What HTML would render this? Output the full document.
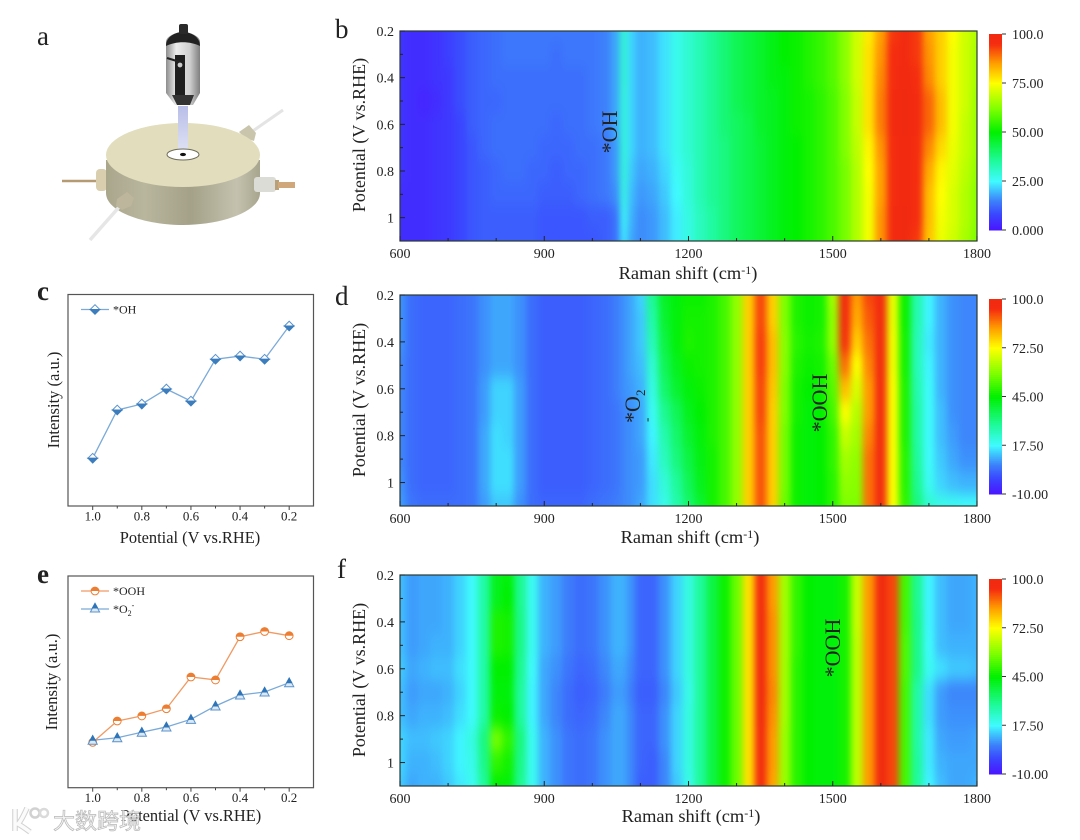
<!DOCTYPE html>
<html lang="en">
<head>
<meta charset="utf-8">
<title>Raman potential maps</title>
<style>
html,body{margin:0;padding:0;background:#fff;}
svg{display:block;filter:blur(0.35px);}
text{font-family:"Liberation Serif","Noto Serif CJK SC",serif;fill:#222;}
</style>
</head>
<body>
<svg id="figure" xmlns="http://www.w3.org/2000/svg" width="1080" height="840" viewBox="0 0 1080 840">
<defs>
<filter id="cellBlur" filterUnits="userSpaceOnUse" x="340" y="0" width="700" height="840" color-interpolation-filters="sRGB"><feGaussianBlur stdDeviation="3.5 7"/></filter>
<clipPath id="clipB"><rect x="400" y="31" width="577" height="210"/></clipPath>
<clipPath id="clipD"><rect x="400" y="295" width="577" height="211"/></clipPath>
<clipPath id="clipF"><rect x="400" y="575" width="577" height="211"/></clipPath>
<linearGradient id="cellSide" x1="0" x2="1" y1="0" y2="0">
<stop offset="0" stop-color="#a9a68c"/><stop offset=".25" stop-color="#b9b69e"/><stop offset=".55" stop-color="#a4a188"/><stop offset=".85" stop-color="#c4c2ae"/><stop offset="1" stop-color="#a8a58e"/>
</linearGradient>
<linearGradient id="probeBody" x1="0" x2="1" y1="0" y2="0">
<stop offset="0" stop-color="#8d8d8d"/><stop offset=".3" stop-color="#ededed"/><stop offset=".7" stop-color="#cfcfcf"/><stop offset="1" stop-color="#7f7f7f"/>
</linearGradient>
<linearGradient id="beam" x1="0" x2="0" y1="0" y2="1">
<stop offset="0" stop-color="#b9bee8"/><stop offset="1" stop-color="#dfe2f4"/>
</linearGradient>
</defs>

<!-- panel a illustration -->
<g id="cell-illustration">
<line x1="283" y1="110" x2="250" y2="133" stroke="#e4e4e4" stroke-width="3"/>
<path d="M239 132 L249 125 L256 133 L254 141 L245 138 Z" fill="#c9c5ac"/>
<line x1="62" y1="181" x2="97" y2="181" stroke="#b59a72" stroke-width="2.5"/>
<rect x="96" y="169" width="11" height="22" rx="4" fill="#d9cfaf"/>
<path d="M106 160 V193 C106 212 145 225 183 225 C221 225 260 212 260 193 V160 Z" fill="url(#cellSide)"/>
<ellipse cx="183" cy="155" rx="77" ry="32" fill="#e1ddbd"/>
<line x1="90" y1="240" x2="120" y2="206" stroke="#e6e6e6" stroke-width="3.5"/>
<path d="M117 199 L127 192 L134 198 L131 206 L122 210 L116 206 Z" fill="#bdb69c"/>
<rect x="254" y="177" width="22" height="15" rx="3" fill="#dcdcd6"/>
<rect x="275" y="180" width="4" height="10" fill="#b8a078"/>
<rect x="278" y="182" width="17" height="6" fill="#d0a77a"/>
<polygon points="178,106 188,106 188,152 178,152" fill="url(#beam)"/>
<ellipse cx="183" cy="154.5" rx="16" ry="5.5" fill="#fff" stroke="#6d6b58" stroke-width="1"/>
<ellipse cx="183" cy="154.5" rx="3" ry="1.6" fill="#111"/>
<path d="M166 42 C166 36 176 32 183 32 C190 32 200 36 200 42 V93 L193 105 H175 L166 93 Z" fill="url(#probeBody)"/>
<path d="M166 46 C166 36 176 32 183 32 C190 32 200 36 200 46 C190 41 176 41 166 46 Z" fill="#222"/>
<rect x="179" y="24" width="9" height="10" rx="2" fill="#2a2a2a"/>
<rect x="175" y="55" width="10" height="40" fill="#1f1f1f"/>
<line x1="167" y1="58" x2="180" y2="62" stroke="#222" stroke-width="2"/>
<circle cx="180" cy="65" r="2.4" fill="#ccc"/>
<path d="M172 95 H194 L190 105 H177 Z" fill="#333"/>
</g>

<text x="37" y="45" font-size="27">a</text>
<text x="335" y="38" font-size="27">b</text>
<text x="37" y="300" font-size="27" font-weight="bold">c</text>
<text x="335" y="305" font-size="27">d</text>
<text x="37" y="583" font-size="27" font-weight="bold">e</text>
<text x="337" y="578" font-size="27">f</text>

<g id="mapB"></g>
<g id="mapD"></g>
<g id="mapF"></g>

<text transform="translate(365,135) rotate(-90)" text-anchor="middle" font-size="18">Potential (V vs.RHE)</text>
<text transform="translate(365,400) rotate(-90)" text-anchor="middle" font-size="18">Potential (V vs.RHE)</text>
<text transform="translate(365,680) rotate(-90)" text-anchor="middle" font-size="18">Potential (V vs.RHE)</text>
<text x="688" y="279" text-anchor="middle" font-size="18.4">Raman shift (cm<tspan dy="-5" font-size="12">-1</tspan><tspan dy="5">)</tspan></text>
<text x="690" y="543" text-anchor="middle" font-size="18.4">Raman shift (cm<tspan dy="-5" font-size="12">-1</tspan><tspan dy="5">)</tspan></text>
<text x="691" y="822" text-anchor="middle" font-size="18.4">Raman shift (cm<tspan dy="-5" font-size="12">-1</tspan><tspan dy="5">)</tspan></text>

<text transform="translate(617,132) rotate(-90)" text-anchor="middle" font-size="22">*OH</text>
<text transform="translate(640,423) rotate(-90)" font-size="22">*O</text>
<text transform="translate(645,396) rotate(-90)" font-size="13">2</text>
<text transform="translate(651,422) rotate(-90)" font-size="13">-</text>
<text transform="translate(827,403) rotate(-90)" text-anchor="middle" font-size="22">*OOH</text>
<text transform="translate(840,648) rotate(-90)" text-anchor="middle" font-size="22">*OOH</text>

<g id="chartC"></g>
<g id="chartE"></g>

<text x="190" y="543" text-anchor="middle" font-size="16.4">Potential (V vs.RHE)</text>
<text transform="translate(59,400) rotate(-90)" text-anchor="middle" font-size="16.5">Intensity (a.u.)</text>
<text x="191" y="821" text-anchor="middle" font-size="16.4">Potential (V vs.RHE)</text>
<text transform="translate(57,682) rotate(-90)" text-anchor="middle" font-size="16.5">Intensity (a.u.)</text>

<g id="legendC">
<text x="113" y="313.5" font-size="12">*OH</text>
</g>
<g id="legendE">
<text x="113" y="595" font-size="12">*OOH</text>
<text x="113" y="613" font-size="12">*O<tspan dy="3" font-size="8">2</tspan><tspan dy="-8" font-size="8">-</tspan></text>
</g>

<g id="watermark" opacity=".95">
<path d="M15 809 V831 M27 808 C23 817 20 822 18 824 C22 826 26 829 30 832" fill="none" stroke="#cfcfcf" stroke-width="5.5"/>
<path d="M15 809 V831 M27 808 C23 817 20 822 18 824 C22 826 26 829 30 832" fill="none" stroke="#fbfbfb" stroke-width="3.5"/>
<circle cx="35" cy="813" r="4.5" fill="none" stroke="#cfcfcf" stroke-width="2.5"/>
<circle cx="44" cy="813" r="4" fill="none" stroke="#d8d8d8" stroke-width="2.5"/>
<text x="53" y="829" font-size="22" style="fill:#f4f4f4;stroke:#b4b4b4;stroke-width:.7;font-family:'Liberation Sans','Noto Sans CJK SC',sans-serif">大数跨境</text>
</g>
</svg>

<script>
const ramanShifts = [600,625,650,675,700,725,750,775,800,825,850,875,900,925,950,975,1000,1025,1050,1065,1080,1100,1125,1150,1175,1200,1225,1250,1275,1300,1325,1350,1375,1400,1425,1450,1475,1500,1525,1550,1575,1600,1625,1650,1675,1700,1725,1750,1775,1800];
const potentials = [0.2,0.3,0.4,0.5,0.6,0.7,0.8,0.9,1.0,1.1];

const bAt02 = [5,4,4,5,7,9,11,12,13,14,14,14,14,14,14,14,14,15,18,30,22,19,20,23,27,30,33,36,39,42,44,46,48,50,51,53,55,58,63,70,77,85,94,98,94,85,80,75,70,67];
const bAt03 = [5,4,4,5,7,9,11,12,13,14,14,14,14,13,14,14,14,15,18,30,22,19,20,23,27,30,33,36,39,42,44,46,48,50,51,53,55,58,63,70,78,86,95,98,94,86,80,74,70,66];
const bAt04 = [5,4,4,5,6,9,11,12,13,13,13,13,13,13,13,13,14,15,18,30,22,19,20,23,27,30,33,36,39,42,44,46,48,49,51,53,55,58,63,70,78,87,96,99,95,87,80,74,70,66];
const bAt05 = [5,4,3,4,6,9,11,12,12,13,13,13,13,13,13,13,14,15,18,29,22,19,20,23,27,30,33,36,39,42,44,46,47,49,51,52,54,57,62,69,78,88,97,100,97,90,82,74,70,65];
const bAt06 = [5,4,4,5,6,8,11,12,13,13,13,13,13,12,13,13,14,15,18,29,22,19,20,23,27,30,33,36,39,41,43,46,47,49,51,52,54,57,62,69,78,88,97,100,97,90,82,74,69,65];
const bAt07 = [5,4,4,5,6,8,10,12,13,13,13,13,12,12,12,13,13,14,17,29,22,19,20,23,27,30,33,36,38,41,43,45,47,49,50,52,54,57,62,68,76,86,96,99,96,87,79,73,69,65];
const bAt08 = [5,4,4,5,6,8,10,11,12,13,13,12,12,11,12,12,13,14,17,29,21,18,19,22,26,29,33,36,38,41,43,45,47,49,50,52,54,57,61,67,75,85,96,99,95,84,76,72,68,64];
const bAt09 = [4,4,4,5,6,8,10,11,12,12,12,12,11,11,11,12,13,14,16,28,20,17,18,21,25,29,33,36,38,41,43,45,47,49,50,52,54,57,61,67,74,85,96,99,95,82,75,71,67,63];
const bAt10 = [4,4,4,5,6,8,10,11,11,11,11,11,10,10,10,10,11,11,13,26,19,16,17,20,24,28,32,35,38,41,43,45,47,49,50,52,54,57,61,67,74,86,97,100,95,82,74,71,67,63];
const bAt11 = [4,4,4,5,6,8,10,11,11,11,11,11,10,10,10,10,10,11,13,24,18,16,17,20,24,28,32,35,38,41,43,45,47,49,50,52,54,57,61,67,74,86,97,100,94,81,73,70,66,62];

const dAt02 = [8,4,3,3,3,4,5,8,10,10,8,4,2,2,2,2,3,4,6,8,10,14,30,41,44,46,46,48,52,60,78,92,78,58,48,46,47,62,98,84,92,98,70,46,27,17,11,8,7,7];
const dAt03 = [8,4,3,3,3,4,5,8,10,10,8,4,2,2,2,2,3,4,6,8,10,13,28,40,44,47,47,48,52,60,78,92,78,58,48,46,47,60,96,82,90,98,70,46,27,17,11,8,7,7];
const dAt04 = [8,4,3,3,3,4,5,8,10,10,8,4,2,2,2,2,3,4,6,8,10,13,26,38,44,48,47,48,52,60,78,93,80,59,49,47,48,60,94,78,88,98,71,47,26,16,11,8,7,7];
const dAt05 = [7,4,3,3,3,4,5,8,10,10,8,4,2,2,2,2,3,4,6,8,10,12,23,36,42,46,47,48,52,60,78,93,80,59,48,46,47,56,88,72,86,98,71,47,26,17,11,8,7,7];
const dAt06 = [7,4,3,3,3,4,5,9,14,14,9,4,2,2,2,2,3,4,6,8,9,11,21,34,40,44,46,48,52,60,78,92,79,58,47,45,46,54,80,68,84,98,72,48,27,18,11,8,7,7];
const dAt07 = [7,4,3,3,3,4,5,9,14,14,9,4,2,2,2,2,3,4,5,7,8,10,19,30,36,42,45,48,52,60,78,92,78,58,47,44,45,52,72,64,84,98,72,48,28,18,12,8,7,7];
const dAt08 = [7,4,3,3,3,4,5,10,15,14,9,4,2,2,2,2,3,4,5,7,8,10,17,27,34,40,44,48,52,60,78,91,78,57,46,44,45,50,66,62,86,98,72,48,28,18,12,9,7,7];
const dAt09 = [7,4,3,3,3,4,5,10,15,15,9,4,2,2,2,2,3,4,5,7,8,9,16,25,32,38,43,47,52,60,78,91,78,57,46,44,45,50,62,60,88,98,72,49,29,18,13,10,8,8];
const dAt10 = [8,4,3,3,3,4,5,10,15,15,9,4,2,2,2,2,3,4,5,7,8,9,15,22,29,36,42,47,52,60,78,91,78,57,46,44,45,49,60,59,88,98,72,49,30,19,14,12,11,11];
const dAt11 = [9,5,4,4,4,4,5,9,13,13,8,4,3,3,3,3,4,5,6,7,8,10,15,20,27,34,40,47,52,60,78,91,78,56,46,44,45,49,58,58,88,98,72,50,32,23,20,19,18,18];

const fAt02 = [12,9,10,10,11,14,18,28,42,44,30,19,11,9,6,4,5,8,11,11,8,3,3,8,14,21,29,38,46,56,76,98,84,62,50,45,44,44,47,66,84,100,92,52,30,17,12,10,10,11];
const fAt03 = [12,9,10,10,11,14,18,28,42,45,30,19,11,9,6,4,5,8,11,11,8,3,3,8,14,21,29,38,46,56,76,98,84,62,50,45,44,44,47,66,84,100,92,52,30,17,12,10,10,11];
const fAt04 = [12,9,10,10,11,14,18,28,48,47,31,19,11,9,6,4,5,8,11,11,8,3,3,8,14,21,29,38,46,56,76,99,85,62,50,45,44,44,47,66,84,100,92,52,31,17,12,10,10,11];
const fAt05 = [12,9,10,11,11,14,18,28,48,47,31,19,11,9,6,4,5,8,11,11,8,3,3,8,14,21,29,38,46,56,76,99,85,62,50,45,44,44,47,65,84,100,92,53,31,18,12,11,11,11];
const fAt06 = [13,10,11,12,12,15,18,28,45,45,30,18,10,8,5,3,4,7,10,10,7,3,3,8,14,21,29,38,46,56,76,99,85,62,49,45,44,44,47,65,84,100,92,53,31,19,15,13,13,12];
const fAt07 = [12,9,10,10,11,14,18,28,44,44,29,17,10,7,4,2,3,6,9,9,6,2,2,7,13,20,29,38,46,56,76,100,86,62,49,45,44,44,47,65,84,100,92,52,28,15,9,7,7,7];
const fAt08 = [12,10,11,11,12,15,18,28,46,45,29,17,10,7,4,3,4,7,10,10,7,3,3,8,14,21,29,38,46,56,76,99,85,62,49,45,44,44,47,65,84,100,92,52,28,15,9,8,8,8];
const fAt09 = [14,12,12,13,14,17,21,32,57,50,32,19,11,8,5,4,5,8,10,10,7,3,3,8,14,21,29,38,46,56,76,98,84,61,49,45,44,44,47,65,84,100,92,52,28,16,10,9,9,10];
const fAt10 = [14,11,11,12,14,17,20,31,50,47,31,19,11,8,5,4,5,8,10,10,7,3,2,7,14,21,29,38,46,56,76,98,84,61,49,45,44,44,47,65,84,100,92,52,29,16,11,10,10,10];
const fAt11 = [13,10,11,11,13,16,19,29,45,44,30,19,11,8,5,4,5,8,10,10,7,2,2,7,13,20,29,38,46,56,76,97,83,61,49,45,44,44,47,65,84,100,92,52,29,17,12,10,10,11];

const heatmapB = [bAt02,bAt03,bAt04,bAt05,bAt06,bAt07,bAt08,bAt09,bAt10,bAt11];
const heatmapD = [dAt02,dAt03,dAt04,dAt05,dAt06,dAt07,dAt08,dAt09,dAt10,dAt11];
const heatmapF = [fAt02,fAt03,fAt04,fAt05,fAt06,fAt07,fAt08,fAt09,fAt10,fAt11];

const ramanTicks = [600,700,800,900,1000,1100,1200,1300,1400,1500,1600,1700,1800];
const ramanTickLabels = ["600","","","900","","","1200","","","1500","","","1800"];
const potentialTicks = [0.2,0.3,0.4,0.5,0.6,0.7,0.8,0.9,1.0];
const potentialTickLabels = ["0.2","","0.4","","0.6","","0.8","","1"];
const colorbarLabelsB = ["100.0","75.00","50.00","25.00","0.000"];
const colorbarValuesB = [100,75,50,25,0];
const colorbarLabelsDF = ["100.0","72.50","45.00","17.50","-10.00"];
const colorbarValuesDF = [100,72.5,45,17.5,-10];

const lineCategories = [1.0,0.9,0.8,0.7,0.6,0.5,0.4,0.3,0.2];
const lineTickValues = [1.0,0.9,0.8,0.7,0.6,0.5,0.4,0.3,0.2];
const lineTickLabels = ["1.0","","0.8","","0.6","","0.4","","0.2"];
const seriesOH = [22.6,45.4,48.2,55.3,49.6,69.4,70.9,69.4,85.1];
const seriesOOH = [21.4,31.5,33.9,37.3,52.3,50.9,71.3,73.8,71.8];
const seriesO2 = [22.4,23.6,26.2,28.7,32.3,38.6,43.8,45.2,49.6];

const SVGNS = 'http://www.w3.org/2000/svg';
function svgEl(tag, attrs, parent){
  const el = document.createElementNS(SVGNS, tag);
  for (const k in attrs) el.setAttribute(k, attrs[k]);
  parent.appendChild(el);
  return el;
}
const colorStops = [
  [0,74,20,255],[0.08,58,69,255],[0.15,61,128,251],[0.25,64,250,255],[0.35,32,250,160],
  [0.5,0,240,0],[0.62,128,255,0],[0.75,255,255,0],[0.85,255,160,0],[0.95,245,44,16],[1,240,42,16]
];
function colorAt(f){
  f = Math.max(0, Math.min(1, f));
  for (let i = 1; i < colorStops.length; i++) {
    const a = colorStops[i-1], b = colorStops[i];
    if (f <= b[0]) {
      const t = (f - a[0]) / (b[0] - a[0]);
      return 'rgb(' + Math.round(a[1]+(b[1]-a[1])*t) + ',' + Math.round(a[2]+(b[2]-a[2])*t) + ',' + Math.round(a[3]+(b[3]-a[3])*t) + ')';
    }
  }
  return 'rgb(240,42,16)';
}

const PLOT_LEFT = 400, PLOT_RIGHT = 977;
function xRaman(w){ return PLOT_LEFT + (w - 600) * (PLOT_RIGHT - PLOT_LEFT) / 1200; }

function drawHeatmap(groupId, matrix, top, bottom, clipId, vMin, vMax, barTop, barBottom, barValues, barLabels, prefix){
  const root = document.getElementById(groupId);
  const yPot = p => top + (p - 0.2) * (bottom - top) / 0.9;
  const fracOf = v => (v - vMin) / (vMax - vMin);
  const clip = svgEl('g', {'clip-path':'url(#' + clipId + ')'}, root);
  const blur = svgEl('g', {filter:'url(#cellBlur)'}, clip);
  potentials.forEach((p, r) => {
    const y0 = r === 0 ? yPot(p) - 30 : yPot((potentials[r-1] + p) / 2);
    const y1 = r === potentials.length - 1 ? yPot(p) + 30 : yPot((potentials[r+1] + p) / 2);
    ramanShifts.forEach((w, c) => {
      const x0 = c === 0 ? xRaman(w) - 30 : xRaman((ramanShifts[c-1] + w) / 2);
      const x1 = c === ramanShifts.length - 1 ? xRaman(w) + 30 : xRaman((ramanShifts[c+1] + w) / 2);
      const cell = svgEl('rect', {x:x0.toFixed(2), y:y0.toFixed(2), width:(x1 - x0 + 0.6).toFixed(2), height:(y1 - y0 + 0.6).toFixed(2), fill:colorAt(fracOf(matrix[r][c]))}, blur);
      
      
    });
  });
  const frame = svgEl('rect', {x:PLOT_LEFT, y:top, width:PLOT_RIGHT - PLOT_LEFT, height:bottom - top, fill:'none', stroke:'#2b3a32', 'stroke-width':1.2}, root);
  
  

  ramanTicks.forEach((w, i) => {
    const major = ramanTickLabels[i] !== '';
    const tick = svgEl('line', {x1:xRaman(w), x2:xRaman(w), y1:bottom, y2:bottom - (major ? 5 : 3), stroke:'#222', 'stroke-width':1}, root);
    
    
    if (major) {
      const label = svgEl('text', {x:xRaman(w), y:bottom + 17, 'text-anchor':'middle', 'font-size':14}, root);
      label.textContent = ramanTickLabels[i];
      
      
    }
  });
  potentialTicks.forEach((p, i) => {
    const major = potentialTickLabels[i] !== '';
    const tick = svgEl('line', {x1:PLOT_LEFT, x2:PLOT_LEFT + (major ? 5 : 3), y1:yPot(p), y2:yPot(p), stroke:'#222', 'stroke-width':1}, root);
    
    
    if (major) {
      const label = svgEl('text', {x:394, y:yPot(p) + 5, 'text-anchor':'end', 'font-size':14}, root);
      label.textContent = potentialTickLabels[i];
      
      
    }
  });

  const yBar = v => barBottom - fracOf(v) * (barBottom - barTop);
  const steps = 98;
  for (let s = 0; s < steps; s++) {
    const vLow = vMin + (vMax - vMin) * s / steps;
    const vHigh = vMin + (vMax - vMin) * (s + 1) / steps;
    const seg = svgEl('rect', {x:989, y:yBar(vHigh).toFixed(2), width:13, height:(yBar(vLow) - yBar(vHigh) + 0.5).toFixed(2), fill:colorAt(fracOf((vLow + vHigh) / 2))}, root);
    
    
  }
  barValues.forEach((v, i) => {
    const tick = svgEl('line', {x1:1002, x2:1006, y1:yBar(v), y2:yBar(v), stroke:'#333', 'stroke-width':1}, root);
    
    
    const label = svgEl('text', {x:1012, y:yBar(v) + 5, 'font-size':14}, root);
    label.textContent = barLabels[i];
    
    
  });
}

drawHeatmap('mapB', heatmapB, 31, 241, 'clipB', 0, 100, 34, 230, colorbarValuesB, colorbarLabelsB, 'heatmap-b');
drawHeatmap('mapD', heatmapD, 295, 506, 'clipD', -10, 100, 299, 494, colorbarValuesDF, colorbarLabelsDF, 'heatmap-d');
drawHeatmap('mapF', heatmapF, 575, 786, 'clipF', -10, 100, 579, 774, colorbarValuesDF, colorbarLabelsDF, 'heatmap-f');

const LINE_LEFT = 68, LINE_RIGHT = 313.5;
function xPotential(p){ return 92.7 + (1.0 - p) * 245.6; }

function drawDiamond(parent, cx, cy, name){
  const h = 4.8;
  const upper = svgEl('polygon', {points:[cx-h,cy, cx,cy-h, cx+h,cy].join(','), fill:'#fff', stroke:'#5b93cc', 'stroke-width':1}, parent);
  
  
  const lower = svgEl('polygon', {points:[cx-h,cy, cx,cy+h, cx+h,cy].join(','), fill:'#3b7dbd', stroke:'#3b7dbd', 'stroke-width':1}, parent);
  
  
}
function drawCircle(parent, cx, cy, name){
  const r = 3.9;
  const base = svgEl('circle', {cx:cx, cy:cy, r:r, fill:'#fff', stroke:'#ed7d31', 'stroke-width':1}, parent);
  
  
  const half = svgEl('path', {d:'M' + (cx-r) + ' ' + cy + ' A' + r + ' ' + r + ' 0 0 1 ' + (cx+r) + ' ' + cy + ' Z', fill:'#ed7d31'}, parent);
  
  
}
function drawTriangle(parent, cx, cy, name){
  const base = svgEl('polygon', {points:[cx-4.6,cy+4, cx,cy-4.6, cx+4.6,cy+4].join(','), fill:'#dbe8f6', stroke:'#5b93cc', 'stroke-width':1}, parent);
  
  
  const top = svgEl('polygon', {points:[cx-2.6,cy, cx,cy-4.6, cx+2.6,cy].join(','), fill:'#2f75b8', stroke:'#2f75b8', 'stroke-width':1}, parent);
  
  
}

function drawLineChart(groupId, top, bottom, series, prefix){
  const root = document.getElementById(groupId);
  const yVal = v => bottom - v * (bottom - top) / 100;
  const frame = svgEl('rect', {x:LINE_LEFT, y:top, width:LINE_RIGHT - LINE_LEFT, height:bottom - top, fill:'none', stroke:'#555', 'stroke-width':1.2}, root);
  
  
  lineTickValues.forEach((p, i) => {
    const major = lineTickLabels[i] !== '';
    const tick = svgEl('line', {x1:xPotential(p), x2:xPotential(p), y1:bottom, y2:bottom + (major ? 4 : 2.5), stroke:'#444', 'stroke-width':1}, root);
    
    
    if (major) {
      const label = svgEl('text', {x:xPotential(p), y:bottom + 14.5, 'text-anchor':'middle', 'font-size':13}, root);
      label.textContent = lineTickLabels[i];
      
      
    }
  });
  series.forEach(s => {
    const pts = s.values.map((v, i) => xPotential(lineCategories[i]).toFixed(2) + ',' + yVal(v).toFixed(2)).join(' ');
    const line = svgEl('polyline', {points:pts, fill:'none', stroke:s.color, 'stroke-width':1.3}, root);
    
    
  });
  series.forEach(s => {
    s.values.forEach((v, i) => {
      s.marker(root, xPotential(lineCategories[i]), yVal(v), s.name + '-point');
    });
  });
}

drawLineChart('chartC', 294.5, 506, [{values:seriesOH, color:'#7aaad8', marker:drawDiamond, name:'series-oh'}], 'chart-c');
drawLineChart('chartE', 576, 787.7, [
  {values:seriesOOH, color:'#f09a63', marker:drawCircle, name:'series-ooh'},
  {values:seriesO2, color:'#7aaad8', marker:drawTriangle, name:'series-o2'}
], 'chart-e');

const legendC = document.getElementById('legendC');
const legendE = document.getElementById('legendE');
const legendLineOH = svgEl('line', {x1:81, x2:109, y1:309.5, y2:309.5, stroke:'#7aaad8', 'stroke-width':1.3}, legendC);


drawDiamond(legendC, 95, 309.5, 'legend-marker-oh');
const legendLineOOH = svgEl('line', {x1:81, x2:109, y1:591, y2:591, stroke:'#f09a63', 'stroke-width':1.3}, legendE);


drawCircle(legendE, 95, 591, 'legend-marker-ooh');
const legendLineO2 = svgEl('line', {x1:81, x2:109, y1:609, y2:609, stroke:'#7aaad8', 'stroke-width':1.3}, legendE);


drawTriangle(legendE, 95, 608, 'legend-marker-o2');

const figure = document.getElementById('figure');
figure.appendChild(document.getElementById('watermark'));
</script>
</body>
</html>
